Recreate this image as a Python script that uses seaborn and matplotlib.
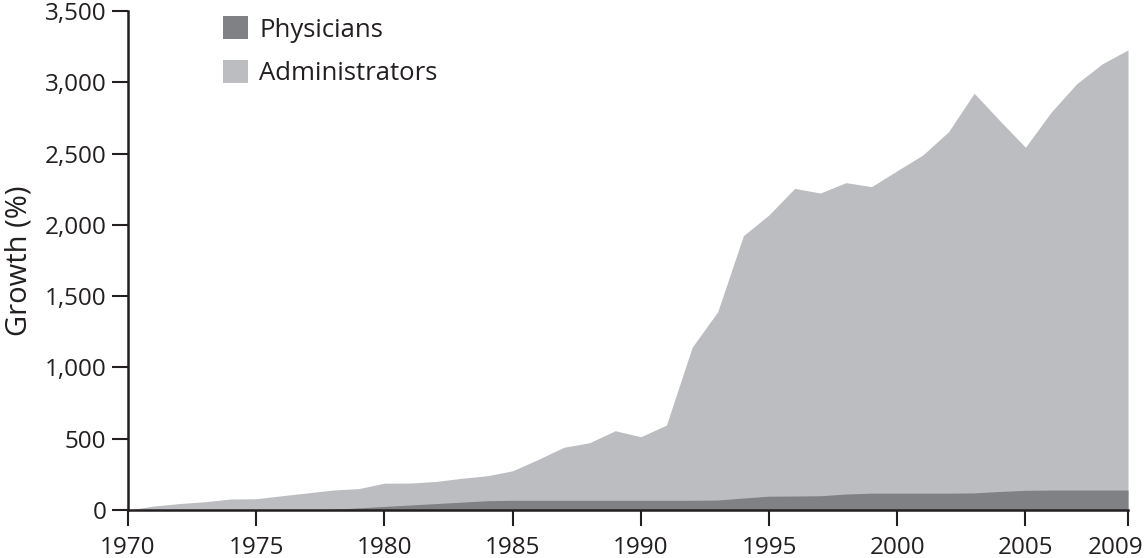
import numpy as np
import pandas as pd
import matplotlib
matplotlib.use("Agg")
import matplotlib.pyplot as plt
import matplotlib.transforms as mtransforms
import seaborn as sns
from matplotlib.ticker import FuncFormatter
from matplotlib.patches import Patch

years = list(range(1970, 2010))
administrators = [0, 28, 45, 58, 77, 79, 100, 120, 140, 150,
                  188, 189, 200, 222, 240, 275, 355, 440, 472, 556,
                  514, 596, 1141, 1391, 1924, 2070, 2256, 2223, 2296, 2268,
                  2380, 2490, 2653, 2923, 2731, 2544, 2790, 2990, 3130, 3227]
physicians = [0, 0, 0, 0, 0, 0, 0, 0, 5, 15,
              25, 35, 45, 55, 65, 68, 68, 68, 68, 68,
              68, 68, 68, 70, 84, 97, 98, 100, 112, 118,
              118, 118, 118, 120, 130, 138, 140, 140, 140, 140]
series_names = ["Physicians", "Administrators"]
colors = {"Physicians": "#808184", "Administrators": "#bcbdc0"}
x_ticks = [1970, 1975, 1980, 1985, 1990, 1995, 2000, 2005, 2009]
y_ticks = [0, 500, 1000, 1500, 2000, 2500, 3000, 3500]

df = pd.DataFrame({"year": years, "Administrators": administrators, "Physicians": physicians})

sns.set_theme(style="ticks")
plt.rcParams["font.family"] = ["Open Sans", "DejaVu Sans"]

fig = plt.figure(figsize=(11.45, 5.58), dpi=100)
ax = fig.add_axes([128 / 1145, 1 - 510 / 558, 1000 / 1145, 499 / 558])

for name in ["Administrators", "Physicians"]:
    sns.lineplot(data=df, x="year", y=name, ax=ax, color=colors[name], linewidth=0, legend=False)
    ax.fill_between(df["year"], 0, df[name], color=colors[name], linewidth=0, zorder=2)

ax.set_xlim(1970, 2009)
ax.set_ylim(0, 3500)
ax.set_xticks(x_ticks)
ax.set_yticks(y_ticks)
ax.yaxis.set_major_formatter(FuncFormatter(lambda v, p: f"{int(v):,}"))
ax.set_xlabel("")
ax.set_ylabel("Growth (%)", fontsize=21, color="#231f20", labelpad=8)

for side in ["top", "right"]:
    ax.spines[side].set_visible(False)
for side in ["left", "bottom"]:
    ax.spines[side].set_linewidth(1.8)
    ax.spines[side].set_color("#231f20")
    ax.spines[side].set_zorder(5)
ax.tick_params(axis="both", direction="out", length=11.5, width=1.5, color="#231f20",
               labelsize=17.5, labelcolor="#231f20", pad=4)
ax.tick_params(axis="x", pad=7)

# last x label shifted slightly left, as in the reference
last = ax.get_xticklabels()[-1]
last.set_transform(last.get_transform() + mtransforms.ScaledTranslation(-12 / 100, 0, fig.dpi_scale_trans))

handles = [Patch(facecolor=colors[n], edgecolor="none") for n in series_names]
leg = ax.legend(handles, series_names, loc="upper left", bbox_to_anchor=(0.085, 1.01),
                frameon=False, fontsize=18.5, handlelength=0.95, handleheight=1.0,
                handletextpad=0.45, labelspacing=0.68, borderaxespad=0)
for t in leg.get_texts():
    t.set_color("#231f20")

fig.savefig("out.png", dpi=100)
